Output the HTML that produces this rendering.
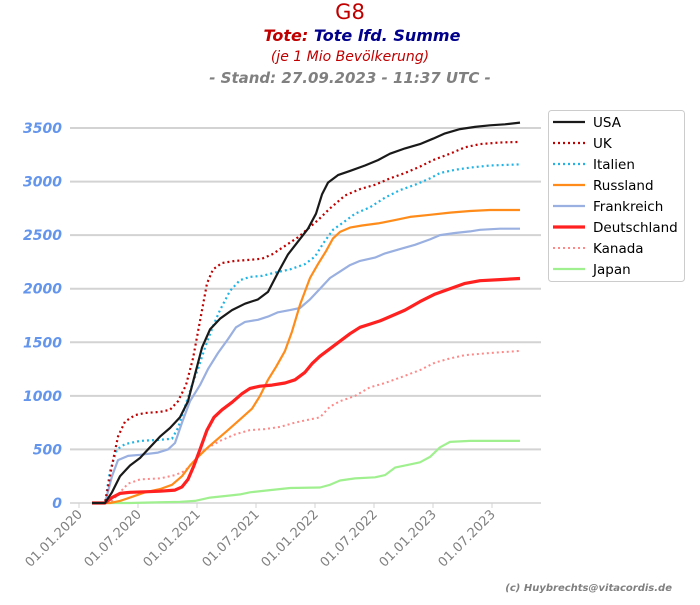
<!DOCTYPE html>
<html><head><meta charset="utf-8"><style>
body{margin:0;background:#fff;width:700px;height:600px;overflow:hidden;font-family:"Liberation Sans","DejaVu Sans",sans-serif}
</style></head><body>
<svg id="s" width="700" height="600" xmlns="http://www.w3.org/2000/svg" font-family="DejaVu Sans, Liberation Sans, sans-serif">
<text x="350" y="19" text-anchor="middle" font-size="21" fill="#c00000">G8</text>
<text x="362" y="41" text-anchor="middle" font-size="16" font-weight="bold" font-style="italic"><tspan fill="#c00000">Tote: </tspan><tspan fill="#00008b">Tote lfd. Summe</tspan></text>
<text x="350" y="61" text-anchor="middle" font-size="14" font-style="italic" fill="#c00000">(je 1 Mio Bevölkerung)</text>
<text x="350" y="83" text-anchor="middle" font-size="15" font-weight="bold" font-style="italic" fill="#808080">- Stand: 27.09.2023 - 11:37 UTC -</text>
<g id="grid"></g><g id="lines"></g>
<text x="672" y="591" text-anchor="end" font-size="10" font-weight="bold" font-style="italic" fill="#808080">(c) Huybrechts@vitacordis.de</text>
<rect x="548.5" y="110.5" width="136" height="171" rx="3" fill="#fff" stroke="#ccc"/>
<g id="leg"></g>
</svg>
<script>
const s=document.getElementById('s'),NS='http://www.w3.org/2000/svg';
function el(t,a,p,txt){const e=document.createElementNS(NS,t);for(const k in a)e.setAttribute(k,a[k]);if(txt!==undefined)e.textContent=String(txt);(p||s).appendChild(e);return e;}
const g=document.getElementById('grid'),L=document.getElementById('lines'),lg=document.getElementById('leg');
const Y=v=>503-v*375/3500;
for(let v=0;v<=3500;v+=500){ if(v>0)el('line',{x1:70,x2:541,y1:Y(v),y2:Y(v),stroke:'#d3d3d3','stroke-width':2},g);
 el('text',{x:62,y:Y(v)+5,'text-anchor':'end','font-size':14,'font-weight':'bold','font-style':'italic',fill:'#6495ed'},g,String(v));}
el('line',{x1:70,x2:541,y1:503,y2:503,stroke:'#d3d3d3','stroke-width':1.5},g);
const xl=['01.01.2020','01.07.2020','01.01.2021','01.07.2021','01.01.2022','01.07.2022','01.01.2023','01.07.2023'];
xl.forEach((t,i)=>{const x=79+i*59;el('line',{x1:x,x2:x,y1:503,y2:508,stroke:'#d3d3d3'},g);
 el('text',{x:x+4,y:515,'text-anchor':'end','font-size':13,fill:'#808080',transform:`rotate(-45 ${x+4} 515)`},g,t);});
const D={
USA:"92:0,105:0,112:100,120:250,130:350,140:420,150:520,160:620,170:700,180:800,188:950,195:1200,202:1450,210:1620,220:1720,232:1800,245:1860,258:1900,268:1970,278:2150,288:2320,298:2440,308:2560,316:2700,322:2880,328:2990,338:3060,350:3100,365:3150,378:3200,390:3260,405:3310,420:3350,433:3400,445:3450,460:3490,475:3510,490:3525,505:3535,520:3550",
UK:"92:0,105:0,112:350,118:620,125:760,135:820,145:840,160:850,170:870,178:950,186:1100,193:1350,200:1700,207:2050,213:2180,222:2240,235:2260,250:2270,262:2280,272:2320,285:2400,298:2480,308:2560,318:2640,330:2750,345:2870,360:2930,375:2970,390:3030,405:3080,420:3140,433:3200,450:3260,465:3320,480:3350,500:3365,520:3370",
Italien:"92:0,105:0,110:300,117:500,125:550,140:580,160:590,172:600,178:700,185:900,192:1100,198:1250,205:1450,213:1650,220:1800,230:1980,240:2080,250:2110,262:2120,275:2150,290:2180,305:2230,315:2300,323:2420,333:2550,345:2630,355:2700,370:2760,385:2850,400:2920,415:2970,430:3030,440:3080,455:3110,470:3130,490:3150,520:3160",
Russland:"92:0,110:0,120:20,130:50,145:100,160:130,172:170,182:250,190:350,198:430,208:520,218:600,228:680,240:780,252:880,260:1000,268:1150,276:1270,285:1420,292:1600,300:1850,310:2100,318:2230,326:2350,333:2470,340:2530,350:2570,362:2590,378:2610,395:2640,410:2670,430:2690,450:2710,470:2725,490:2735,520:2735",
Frankreich:"92:0,105:0,112:250,118:400,128:440,140:450,158:470,168:500,175:560,182:750,190:950,200:1100,208:1250,218:1400,228:1530,236:1640,245:1690,258:1710,268:1740,278:1780,290:1800,300:1820,310:1900,320:2000,330:2100,340:2160,350:2220,360:2260,375:2290,385:2330,400:2370,415:2410,430:2460,440:2500,455:2520,470:2535,480:2550,500:2560,520:2560",
Deutschland:"92:0,105:0,112:50,120:90,130:100,145:105,160:110,175:120,182:150,188:220,194:350,200:500,207:680,214:800,222:870,232:940,242:1020,250:1070,260:1090,272:1100,285:1120,295:1150,305:1220,312:1300,320:1370,330:1440,340:1510,350:1580,360:1640,370:1670,380:1700,390:1740,405:1800,420:1880,435:1950,450:2000,465:2050,480:2075,500:2085,520:2095",
Kanada:"92:0,110:0,118:80,128:180,140:220,160:230,175:260,185:300,195:400,205:500,220:580,235:640,250:680,265:690,280:710,295:750,310:780,320:800,330:900,340:950,355:1000,370:1080,385:1120,400:1170,420:1240,435:1310,450:1350,465:1380,490:1400,520:1420",
Japan:"92:0,130:0,150:5,180:10,195:20,210:50,230:70,240:80,250:100,270:120,290:140,320:145,330:170,340:210,355:230,375:240,385:260,395:330,410:360,420:380,430:430,440:520,450:570,470:580,520:580"};
const st={USA:['#1a1a1a',2.2,''],UK:['#c00000',2.2,'2 3'],Italien:['#1eb4e6',2.2,'2 3'],Russland:['#ff8c1a',2.2,''],Frankreich:['#9ab0e0',2.2,''],Deutschland:['#ff2020',3.2,''],Kanada:['#ff8888',2,'2 3'],Japan:['#a0f090',2.2,'']};
const order=['Japan','Kanada','Frankreich','Russland','Italien','UK','Deutschland','USA'];
order.forEach(k=>{const pts=D[k].split(',').map(p=>{const[a,b]=p.split(':');return a+','+Y(+b).toFixed(1)}).join(' ');
 const [c,w,d]=st[k];const a={points:pts,fill:'none',stroke:c,'stroke-width':w,'stroke-linejoin':'round'};if(d)a['stroke-dasharray']=d;el('polyline',a,L);});
['USA','UK','Italien','Russland','Frankreich','Deutschland','Kanada','Japan'].forEach((k,i)=>{const y=122+i*21;const [c,w,d]=st[k];
 const a={x1:553,x2:585,y1:y,y2:y,stroke:c,'stroke-width':w};if(d)a['stroke-dasharray']=d;el('line',a,lg);
 el('text',{x:593,y:y+5,'font-size':13.5,fill:'#000'},lg,k);});
</script>
</body></html>
